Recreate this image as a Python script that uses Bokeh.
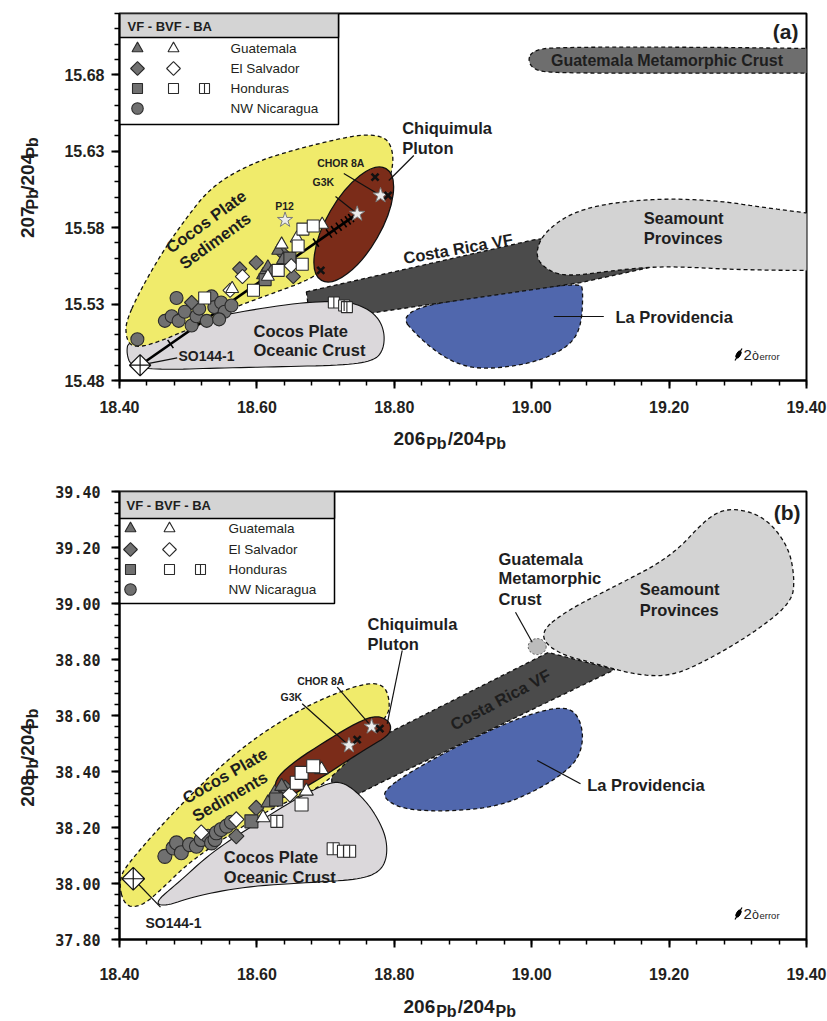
import numpy as np
from bokeh.plotting import figure
from bokeh.models import FixedTicker, PrintfTickFormatter
from bokeh.layouts import column, row
from bokeh.core.properties import value
from bokeh.embed import file_html
from bokeh.resources import INLINE

FONT = "Liberation Sans"

# ---------------------------------------------------------------------------
# Panel (a): 206Pb/204Pb vs 207Pb/204Pb
# ---------------------------------------------------------------------------
a_nic_vf_x = [18.426, 18.466, 18.476, 18.486, 18.495, 18.483, 18.505, 18.512,
              18.516, 18.527, 18.534, 18.538, 18.548, 18.553, 18.563, 18.545]
a_nic_vf_y = [15.507, 15.519, 15.522, 15.519, 15.525, 15.534, 15.516, 15.522,
              15.527, 15.519, 15.535, 15.528, 15.531, 15.525, 15.529, 15.520]
a_sal_vf_x = [18.505, 18.575, 18.599, 18.653, 18.638]
a_sal_vf_y = [15.531, 15.553, 15.557, 15.548, 15.563]
a_gua_vf_x = [18.609, 18.616, 18.621, 18.631, 18.638]
a_gua_vf_y = [15.549, 15.554, 15.551, 15.565, 15.559]
a_hon_vf_x = [18.612, 18.648]
a_hon_vf_y = [15.546, 15.560]
a_sal_bvf_x = [18.561, 18.579, 18.650]
a_sal_bvf_y = [15.539, 15.548, 15.555]
a_gua_bvf_x = [18.564, 18.616, 18.636, 18.658, 18.695]
a_gua_bvf_y = [15.540, 15.548, 15.569, 15.573, 15.582]
a_hon_bvf_x = [18.524, 18.595, 18.631, 18.660, 18.666, 18.667, 18.682]
a_hon_bvf_y = [15.534, 15.539, 15.552, 15.568, 15.556, 15.579, 15.581]
a_hon_ba_x = [18.712, 18.727, 18.731]
a_hon_ba_y = [15.531, 15.529, 15.528]
a_star_names = ["P12", "G3K", "CHOR 8A"]
a_star_x = [18.641, 18.746, 18.780]
a_star_y = [15.585, 15.589, 15.601]
a_chiq_x = [18.772, 18.791, 18.693]
a_chiq_y = [15.613, 15.601, 15.552]
a_so144_x = [18.430]
a_so144_y = [15.490]
# tick marks along the SO144-1 -> G3K mixing line (fraction of sediment end-member)
mix_ticks = [0.14, 0.81, 0.87, 0.893, 0.915, 0.938, 0.957, 0.972]

# reservoir fields, panel (a)
a_sed_x = [18.410, 18.428, 18.461, 18.495, 18.534, 18.592, 18.655, 18.728, 18.762,
           18.786, 18.796, 18.799, 18.789, 18.752, 18.709, 18.687, 18.665, 18.629,
           18.592, 18.563, 18.527, 18.498, 18.461, 18.432, 18.415, 18.409]
a_sed_y = [15.519, 15.537, 15.563, 15.585, 15.607, 15.622, 15.631, 15.639, 15.641,
           15.639, 15.633, 15.622, 15.605, 15.578, 15.559, 15.549, 15.544, 15.538,
           15.532, 15.527, 15.518, 15.513, 15.506, 15.502, 15.503, 15.510]
a_crust_x = [18.413, 18.476, 18.563, 18.661, 18.728, 18.757, 18.777, 18.786,
             18.784, 18.771, 18.728, 18.631, 18.534, 18.461, 18.417, 18.410]
a_crust_y = [15.506, 15.516, 15.524, 15.531, 15.532, 15.528, 15.521, 15.511,
             15.500, 15.493, 15.490, 15.489, 15.488, 15.487, 15.489, 15.498]
a_pluton_center = (18.741, 15.582)
a_crvf_x = [18.672, 19.003, 19.173, 19.183, 19.071, 18.780, 18.678]
a_crvf_y = [15.538, 15.572, 15.581, 15.555, 15.544, 15.525, 15.518]
a_prov_x = [18.803, 18.840, 18.883, 18.927, 19.000, 19.051, 19.072, 19.075, 19.070, 18.927]
a_prov_y = [15.525, 15.506, 15.492, 15.487, 15.491, 15.501, 15.514, 15.539, 15.544, 15.536]
a_seam_x = [19.004, 19.019, 19.072, 19.170, 19.266, 19.339, 19.500, 19.500,
            19.316, 19.193, 19.120, 19.054, 19.022]
a_seam_y = [15.562, 15.578, 15.593, 15.599, 15.598, 15.593, 15.584, 15.552,
            15.552, 15.555, 15.552, 15.548, 15.552]
a_gmc_x = [18.994, 19.003, 19.035, 19.246, 19.420, 19.500, 19.500, 19.246, 19.035, 19.003]
a_gmc_y = [15.690, 15.696, 15.698, 15.698, 15.697, 15.697, 15.681, 15.681, 15.681, 15.683]

# ---------------------------------------------------------------------------
# Panel (b): 206Pb/204Pb vs 208Pb/204Pb
# ---------------------------------------------------------------------------
b_nic_vf_x = [18.466, 18.478, 18.483, 18.490, 18.502, 18.512, 18.519, 18.529,
              18.534, 18.539, 18.541, 18.548, 18.556, 18.563]
b_nic_vf_y = [38.097, 38.127, 38.145, 38.110, 38.139, 38.133, 38.157, 38.169,
              38.145, 38.157, 38.181, 38.193, 38.205, 38.219]
b_sal_vf_x = [18.570, 18.599, 18.629, 18.641]
b_sal_vf_y = [38.169, 38.270, 38.312, 38.342]
b_gua_vf_x = [18.616, 18.626, 18.636]
b_gua_vf_y = [38.288, 38.324, 38.347]
b_hon_vf_x = [18.592, 18.628]
b_hon_vf_y = [38.222, 38.300]
b_sal_bvf_x = [18.519, 18.570, 18.648]
b_sal_bvf_y = [38.182, 38.229, 38.318]
b_gua_bvf_x = [18.609, 18.672, 18.694]
b_gua_bvf_y = [38.235, 38.330, 38.407]
b_hon_bvf_x = [18.658, 18.665, 18.665, 18.682]
b_hon_bvf_y = [38.360, 38.282, 38.395, 38.419]
b_hon_ba_x = [18.629, 18.711, 18.726, 18.735]
b_hon_ba_y = [38.222, 38.124, 38.115, 38.115]
b_star_names = ["G3K", "CHOR 8A"]
b_star_x = [18.734, 18.767]
b_star_y = [38.493, 38.560]
b_chiq_x = [18.746, 18.779]
b_chiq_y = [38.514, 38.553]
b_so144_x = [18.420]
b_so144_y = [38.017]

b_sed_x = [18.407, 18.398, 18.417, 18.486, 18.573, 18.661, 18.728, 18.767, 18.786, 18.793,
           18.792, 18.704, 18.661, 18.611, 18.573, 18.534, 18.495, 18.461, 18.432]
b_sed_y = [37.918, 38.014, 38.086, 38.275, 38.479, 38.621, 38.693, 38.718, 38.704, 38.657,
           38.596, 38.361, 38.311, 38.254, 38.193, 38.132, 38.061, 37.979, 37.918]
b_crust_x = [18.451, 18.486, 18.534, 18.592, 18.655, 18.704, 18.728, 18.757, 18.777,
             18.789, 18.789, 18.777, 18.748, 18.679, 18.582, 18.509, 18.466]
b_crust_y = [37.932, 38.004, 38.111, 38.204, 38.300, 38.361, 38.361, 38.300, 38.229,
             38.157, 38.086, 38.039, 38.014, 38.004, 37.989, 37.954, 37.918]
b_pluton_x = [18.630, 18.659, 18.697, 18.736, 18.770, 18.790, 18.796, 18.790,
              18.765, 18.727, 18.697, 18.673, 18.649, 18.632, 18.625]
b_pluton_y = [38.383, 38.443, 38.503, 38.562, 38.600, 38.586, 38.556, 38.526,
              38.490, 38.431, 38.383, 38.348, 38.312, 38.306, 38.336]
b_crvf_x = [18.709, 19.024, 19.121, 18.781, 18.709]
b_crvf_y = [38.436, 38.825, 38.764, 38.361, 38.271]
b_prov_x = [18.786, 18.829, 18.902, 18.975, 19.033, 19.062, 19.075, 19.072, 19.054,
            19.010, 18.952, 18.879, 18.815, 18.786]
b_prov_y = [38.336, 38.407, 38.504, 38.586, 38.629, 38.621, 38.550, 38.468, 38.407,
            38.336, 38.275, 38.257, 38.264, 38.300]
b_seam_x = [19.010, 19.054, 19.121, 19.204, 19.257, 19.291, 19.339, 19.374, 19.383,
            19.378, 19.330, 19.266, 19.204, 19.150, 19.097, 19.033]
b_seam_y = [38.896, 38.979, 39.061, 39.168, 39.311, 39.343, 39.311, 39.204, 39.086,
            39.004, 38.907, 38.811, 38.739, 38.746, 38.782, 38.825]
b_gmc_center = (19.008, 38.846)

# axes
X_RANGE = (18.40, 19.40)
X_MAJOR = [18.40, 18.60, 18.80, 19.00, 19.20, 19.40]
A_Y_RANGE = (15.48, 15.72)
A_Y_MAJOR = [15.48, 15.53, 15.58, 15.63, 15.68]
B_Y_RANGE = (37.80, 39.40)
B_Y_MAJOR = [37.80, 38.00, 38.20, 38.40, 38.60, 38.80, 39.00, 39.20, 39.40]
X_MINOR = [round(18.40 + 0.04 * i, 2) for i in range(26)]
A_Y_MINOR = [round(15.48 + 0.01 * i, 2) for i in range(25)]
B_Y_MINOR = [round(37.80 + 0.04 * i, 2) for i in range(41)]

PAGE_W = 827
YT_W = 50            # strip holding the rotated y-axis title
FRAME_W = 687
A_FRAME_H = 367
B_FRAME_H = 448

# colours
YELLOW = "#f0eb6b"
CRUST = "#dbd8db"
BROWN = "#7b2c19"
BAND = "#4b4b4b"
SEAM = "#d3d3d3"
BLUE = "#5067ad"
GMC_DARK = "#6e6e6e"
GMC_LIGHT = "#bcbcbc"
GRAY = "#707070"
EDGE = "#2b2b2b"
TEXT = "#1e1e1e"


def placer(yr, fh):
    """Map pixel offsets from the frame's top-left corner to data space."""
    def at(fx, fy):
        x = X_RANGE[0] + fx / FRAME_W * (X_RANGE[1] - X_RANGE[0])
        y = yr[1] - fy / fh * (yr[1] - yr[0])
        return x, y
    return at


def chaikin(xs, ys, n=3):
    pts = np.column_stack([xs, ys]).astype(float)
    for _ in range(n):
        nxt = np.roll(pts, -1, axis=0)
        q = 0.75 * pts + 0.25 * nxt
        r = 0.25 * pts + 0.75 * nxt
        out = np.empty((2 * len(pts), 2))
        out[0::2] = q
        out[1::2] = r
        pts = out
    return list(pts[:, 0]), list(pts[:, 1])


def make_fig(yr, height, top, bottom, y_major, y_minor, y_font, x_standoff, y_standoff):
    p = figure(width=PAGE_W - YT_W, height=height, x_range=X_RANGE, y_range=yr,
               min_border_left=119 - YT_W, min_border_right=21, min_border_top=top,
               min_border_bottom=bottom, output_backend="svg", toolbar_location=None)
    p.xgrid.visible = False
    p.ygrid.visible = False
    p.outline_line_color = "black"
    p.outline_line_width = 2
    p.outline_line_alpha = 1
    p.xaxis.ticker = FixedTicker(ticks=X_MAJOR, minor_ticks=X_MINOR)
    p.yaxis.ticker = FixedTicker(ticks=y_major, minor_ticks=y_minor)
    for ax in (p.xaxis, p.yaxis):
        ax.formatter = PrintfTickFormatter(format="%.2f")
        ax.axis_line_width = 2
        ax.axis_line_color = "black"
        ax.major_tick_in = 0
        ax.major_tick_out = 8
        ax.minor_tick_in = 0
        ax.minor_tick_out = 5
        ax.major_tick_line_width = 2
        ax.minor_tick_line_width = 1.5
        ax.major_tick_line_color = "black"
        ax.minor_tick_line_color = "black"
        ax.major_label_text_font_style = "bold"
        ax.major_label_text_color = "#231f20"
    p.xaxis.major_label_text_font = FONT
    p.xaxis.major_label_text_font_size = "16px"
    p.xaxis.major_label_standoff = x_standoff
    p.yaxis.major_label_text_font = y_font
    p.yaxis.major_label_text_font_size = "16px" if y_font == FONT else "15px"
    p.yaxis.major_label_standoff = y_standoff
    return p


def strip(width, height):
    """Blank canvas in pixel units (y measured upwards) for axis titles."""
    f = figure(width=width, height=height, x_range=(0, width), y_range=(0, height),
               min_border=0, title=None, output_backend="svg", toolbar_location=None,
               x_axis_type=None, y_axis_type=None)
    f.outline_line_color = None
    f.grid.visible = False
    return f


def field(p, xs, ys, fill, dashed=True, smooth=3, lw=1.3):
    if smooth:
        xs, ys = chaikin(xs, ys, smooth)
    p.patch(xs, ys, fill_color=fill, line_color="#111111", line_width=lw,
            line_dash="4 3" if dashed else "solid")


def put(p, x, y, s, size="16.5px", align="left", angle=0.0, bold=True,
        baseline="middle", color=TEXT):
    p.text(x=[x], y=[y], text=[s], text_font=value(FONT), text_font_size=size,
           text_font_style="bold" if bold else "normal", text_align=align,
           text_baseline=baseline, angle=angle, text_color=color)


def text(p, at, fx, fy, s, **kw):
    x, y = at(fx, fy)
    put(p, x, y, s, **kw)


def leader(p, x0, y0, x1, y1):
    p.segment(x0=[x0], y0=[y0], x1=[x1], y1=[y1], line_color="#111111", line_width=1.2)


def marks(p, x, y, kind, size, fill):
    if kind == "diamond":
        p.scatter(x=x, y=y, marker="square", angle=np.pi / 4, size=size * 0.72,
                  fill_color=fill, line_color=EDGE, line_width=1.1)
    elif kind == "ba":
        p.scatter(x=x, y=y, marker="square", size=size, fill_color="white",
                  line_color=EDGE, line_width=1.1)
        p.scatter(x=x, y=y, marker="dash", angle=np.pi / 2, size=size,
                  line_color=EDGE, line_width=1.1)
    else:
        p.scatter(x=x, y=y, marker=kind, size=size, fill_color=fill,
                  line_color=EDGE, line_width=1.1)


def samples(p, groups, sz):
    for x, y, kind, fill in groups:
        marks(p, x, y, kind, sz[kind], fill)


def legend(p, at, right, head_bottom, bottom, rows_fy, cols_fx, text_fx, head_fx):
    l, t = at(0, 0)
    r, hb = at(right, head_bottom)
    _, b = at(0, bottom)
    p.quad(left=[l], right=[r], top=[t], bottom=[b], fill_color="white",
           line_color="black", line_width=1.5)
    p.quad(left=[l], right=[r], top=[t], bottom=[hb], fill_color="#d4d4d4",
           line_color="black", line_width=1.5)
    text(p, at, head_fx, head_bottom / 2 + 0.5, "VF  -  BVF - BA", size="13px")
    rows = [
        ("Guatemala", [("triangle", GRAY), ("triangle", "white")]),
        ("El Salvador", [("diamond", GRAY), ("diamond", "white")]),
        ("Honduras", [("square", GRAY), ("square", "white"), ("ba", "white")]),
        ("NW Nicaragua", [("circle", GRAY)]),
    ]
    lsz = {"triangle": 11, "diamond": 13.5, "square": 10, "ba": 10, "circle": 11.5}
    for fy, (name, syms) in zip(rows_fy, rows):
        for fx, (kind, fill) in zip(cols_fx, syms):
            x, y = at(fx, fy)
            marks(p, [x], [y], kind, lsz[kind], fill)
        text(p, at, text_fx, fy, name, size="13.5px", bold=False, color="#231f20")


def error_bar(p, at, fx, fy):
    x, y = at(fx, fy)
    p.ellipse(x=[x], y=[y], width=8, height=4, angle=60, angle_units="deg",
              width_units="screen", height_units="screen", fill_color="black",
              line_color="black")
    xa, ya = at(fx - 3.5, fy + 6)
    xb, yb = at(fx + 3.5, fy - 6)
    p.segment(x0=[xa], y0=[ya], x1=[xb], y1=[yb], line_color="black", line_width=1.2)
    text(p, at, fx + 5, fy, "2", size="15px", bold=False)
    text(p, at, fx + 13.5, fy + 1, "ò", size="12.5px", bold=False)
    text(p, at, fx + 21, fy + 2, "error", size="9.5px", bold=False)


# pieces of an isotope-ratio title: (text, offset along the line, size, drop);
# offsets follow the advance widths of the bold sans face
BIG, SMALL = 19, 16


def ratio_pieces(num):
    w_num = 1.668 * BIG + 1
    w_pb = 1.278 * SMALL + 1
    w_den = 1.946 * BIG + 1
    return [(num, 0.0, f"{BIG}px", 0.0),
            ("Pb", w_num, f"{SMALL}px", 5.0),
            ("/204", w_num + w_pb, f"{BIG}px", 0.0),
            ("Pb", w_num + w_pb + w_den, f"{SMALL}px", 5.0)]


def x_title(f, x0, mid):
    """Horizontal title; `mid` is the height of the numerals' centre line."""
    for s, off, size, drop in ratio_pieces("206"):
        put(f, x0 + off, mid - drop, s, size=size)


def y_title(f, mid, y0, num):
    """Vertical title reading upwards; `mid` is the numerals' centre line."""
    for s, off, size, drop in ratio_pieces(num):
        put(f, mid + drop, y0 + off, s, size=size, angle=np.pi / 2)


# ===========================================================================
# Panel (a)
# ===========================================================================
A_H = 420
at_a = placer(A_Y_RANGE, A_FRAME_H)
pa = make_fig(A_Y_RANGE, A_H, 13, A_H - 13 - A_FRAME_H, A_Y_MAJOR, A_Y_MINOR, FONT, 12, 7)

field(pa, a_gmc_x, a_gmc_y, GMC_DARK, smooth=3)
field(pa, a_prov_x, a_prov_y, BLUE, smooth=3)
field(pa, a_crvf_x, a_crvf_y, BAND, smooth=0)
field(pa, a_seam_x, a_seam_y, SEAM, smooth=3)
field(pa, a_crust_x, a_crust_y, CRUST, dashed=False, smooth=3, lw=1.1)
field(pa, a_sed_x, a_sed_y, YELLOW, smooth=3)
pa.ellipse(x=[a_pluton_center[0]], y=[a_pluton_center[1]], width=129, height=54,
           angle=60, angle_units="deg", width_units="screen", height_units="screen",
           fill_color=BROWN, line_color="#111111", line_width=1.3)

# mixing line between SO144-1 and G3K
mx0, my0 = a_so144_x[0], a_so144_y[0]
mx1, my1 = a_star_x[1], a_star_y[1]
pa.line([mx0, mx1], [my0, my1], line_color="black", line_width=2.6)
sx = FRAME_W / (X_RANGE[1] - X_RANGE[0])
sy = A_FRAME_H / (A_Y_RANGE[1] - A_Y_RANGE[0])
tick_angle = np.arctan2((my1 - my0) * sy, (mx1 - mx0) * sx) + np.pi / 2
pa.scatter(x=[mx0 + f * (mx1 - mx0) for f in mix_ticks],
           y=[my0 + f * (my1 - my0) for f in mix_ticks],
           marker="dash", size=10, angle=tick_angle, line_color="black", line_width=1.6)

size_a = {"circle": 13, "diamond": 14, "triangle": 13, "square": 12, "ba": 11}
samples(pa, [
    (a_nic_vf_x, a_nic_vf_y, "circle", GRAY),
    (a_sal_vf_x, a_sal_vf_y, "diamond", GRAY),
    (a_gua_vf_x, a_gua_vf_y, "triangle", GRAY),
    (a_hon_vf_x, a_hon_vf_y, "square", GRAY),
    (a_sal_bvf_x, a_sal_bvf_y, "diamond", "white"),
    (a_gua_bvf_x, a_gua_bvf_y, "triangle", "white"),
    (a_hon_bvf_x, a_hon_bvf_y, "square", "white"),
    (a_hon_ba_x, a_hon_ba_y, "ba", "white"),
], size_a)

# labelled samples and their leaders
x, y = at_a(57.7, 344.3)
leader(pa, a_so144_x[0], a_so144_y[0], x, y)
x, y = at_a(216, 183)
leader(pa, x, y, a_star_x[1], a_star_y[1])
x, y = at_a(224.3, 160)
leader(pa, x, y, a_star_x[2], a_star_y[2])
pa.scatter(x=a_star_x, y=a_star_y, marker="star", size=16, fill_color="#ececec",
           line_color="#7a7a7a", line_width=1)
pa.scatter(x=a_chiq_x, y=a_chiq_y, marker="x", size=10, line_color="#111111", line_width=2.6)
pa.scatter(x=a_so144_x, y=a_so144_y, marker="square_x", angle=np.pi / 4, size=15,
           fill_color="white", line_color="#111111", line_width=1.2)

text(pa, at_a, 165, 192, a_star_names[0], size="10.5px", align="center")
text(pa, at_a, 193, 168.7, a_star_names[1], size="10.5px")
text(pa, at_a, 197.7, 149.7, a_star_names[2], size="10.5px")
text(pa, at_a, 59, 342, "SO144-1", size="14px")

# field names
text(pa, at_a, 679, 18, "(a)", size="21px", align="right")
text(pa, at_a, 547.5, 47, "Guatemala Metamorphic Crust", size="16px", align="center")
text(pa, at_a, 282.7, 114.7, "Chiquimula")
text(pa, at_a, 282.7, 134.3, "Pluton")
xa, ya = at_a(294.3, 142)
xb, yb = at_a(269.3, 167)
leader(pa, xa, ya, xb, yb)
text(pa, at_a, 524.3, 204.3, "Seamount")
text(pa, at_a, 524.3, 224.3, "Provinces")
text(pa, at_a, 496, 303, "La Providencia")
xa, ya = at_a(434.3, 303)
xb, yb = at_a(484.3, 303)
leader(pa, xa, ya, xb, yb)
text(pa, at_a, 338.5, 235, "Costa Rica VF", align="center", angle=np.radians(10))
text(pa, at_a, 86.5, 208, "Cocos Plate", align="center", angle=np.radians(36))
text(pa, at_a, 95.5, 227, "Sediments", align="center", angle=np.radians(36))
text(pa, at_a, 134, 317, "Cocos Plate")
text(pa, at_a, 134, 336.3, "Oceanic Crust")

error_bar(pa, at_a, 619, 341)
legend(pa, at_a, 219, 24, 111, [35, 55, 75, 95], [18, 54, 85], 111, 8)

ya_strip = strip(YT_W, A_H)
y_title(ya_strip, 27, A_H - 257, "207")
xa_strip = strip(PAGE_W, 35)
x_title(xa_strip, 393, 455 - 438)

# ===========================================================================
# Panel (b)
# ===========================================================================
B_H = 530
at_b = placer(B_Y_RANGE, B_FRAME_H)
pb = make_fig(B_Y_RANGE, B_H, 36, B_H - 36 - B_FRAME_H, B_Y_MAJOR, B_Y_MINOR,
              "DejaVu Sans Mono", 20, 11)

field(pb, b_prov_x, b_prov_y, BLUE, smooth=3)
field(pb, b_crvf_x, b_crvf_y, BAND, smooth=0)
field(pb, b_seam_x, b_seam_y, SEAM, smooth=3)
pb.ellipse(x=[b_gmc_center[0]], y=[b_gmc_center[1]], width=18, height=16,
           width_units="screen", height_units="screen", fill_color=GMC_LIGHT,
           line_color="#555555", line_width=1, line_dash="2 2")
field(pb, b_crust_x, b_crust_y, CRUST, dashed=False, smooth=3, lw=1.1)
field(pb, b_sed_x, b_sed_y, YELLOW, smooth=3)
field(pb, b_pluton_x, b_pluton_y, BROWN, dashed=False, smooth=2)

x, y = at_b(41, 415.7)
leader(pb, b_so144_x[0], b_so144_y[0], x, y)

size_b = {"circle": 14, "diamond": 15, "triangle": 14, "square": 13, "ba": 12}
samples(pb, [
    (b_nic_vf_x, b_nic_vf_y, "circle", GRAY),
    (b_sal_vf_x, b_sal_vf_y, "diamond", GRAY),
    (b_gua_vf_x, b_gua_vf_y, "triangle", GRAY),
    (b_hon_vf_x, b_hon_vf_y, "square", GRAY),
    (b_sal_bvf_x, b_sal_bvf_y, "diamond", "white"),
    (b_gua_bvf_x, b_gua_bvf_y, "triangle", "white"),
    (b_hon_bvf_x, b_hon_bvf_y, "square", "white"),
    (b_hon_ba_x, b_hon_ba_y, "ba", "white"),
], size_b)

x, y = at_b(182.7, 212.3)
leader(pb, x, y, b_star_x[0], b_star_y[0])
x, y = at_b(217.7, 195.7)
leader(pb, x, y, b_star_x[1], b_star_y[1])
pb.scatter(x=b_star_x, y=b_star_y, marker="star", size=16, fill_color="#ececec",
           line_color="#7a7a7a", line_width=1)
pb.scatter(x=b_chiq_x, y=b_chiq_y, marker="x", size=10, line_color="#111111", line_width=2.6)
pb.scatter(x=b_so144_x, y=b_so144_y, marker="square_x", angle=np.pi / 4, size=16,
           fill_color="white", line_color="#111111", line_width=1.2)

text(pb, at_b, 161, 205, b_star_names[0], size="10.5px")
text(pb, at_b, 177.7, 189.7, b_star_names[1], size="10.5px")
text(pb, at_b, 26, 431.7, "SO144-1", size="14px")

text(pb, at_b, 681, 21, "(b)", size="21px", align="right")
text(pb, at_b, 379, 67.3, "Guatemala")
text(pb, at_b, 379, 86.8, "Metamorphic")
text(pb, at_b, 379, 107.3, "Crust")
xa, ya = at_b(396, 120.7)
xb, yb = at_b(412.7, 150.7)
leader(pb, xa, ya, xb, yb)
text(pb, at_b, 520.3, 97.3, "Seamount")
text(pb, at_b, 520.3, 118, "Provinces")
text(pb, at_b, 248, 132.3, "Chiquimula")
text(pb, at_b, 248, 152.3, "Pluton")
xa, ya = at_b(282.7, 159)
xb, yb = at_b(267.7, 232.3)
leader(pb, xa, ya, xb, yb)
text(pb, at_b, 381, 208, "Costa Rica VF", align="center", angle=np.radians(28))
text(pb, at_b, 467.7, 293, "La Providencia")
xa, ya = at_b(417.7, 269)
xb, yb = at_b(461, 292.3)
leader(pb, xa, ya, xb, yb)
text(pb, at_b, 105.2, 284, "Cocos Plate", align="center", angle=np.radians(30))
text(pb, at_b, 110.2, 304.8, "Sediments", align="center", angle=np.radians(30))
text(pb, at_b, 104.3, 365, "Cocos Plate")
text(pb, at_b, 104.3, 385, "Oceanic Crust")

error_bar(pb, at_b, 619, 422)
legend(pb, at_b, 215, 27, 112, [37, 58, 78, 98], [11, 50, 81], 109, 7)

yb_strip = strip(YT_W, B_H)
y_title(yb_strip, 27, B_H - (828 - 455), "208")
xb_strip = strip(PAGE_W, 36)
x_title(xb_strip, 403, 1021 - 1006)

layout = column(row(ya_strip, pa), xa_strip, row(yb_strip, pb), xb_strip)
open("out.html", "w").write(file_html(layout, INLINE))
